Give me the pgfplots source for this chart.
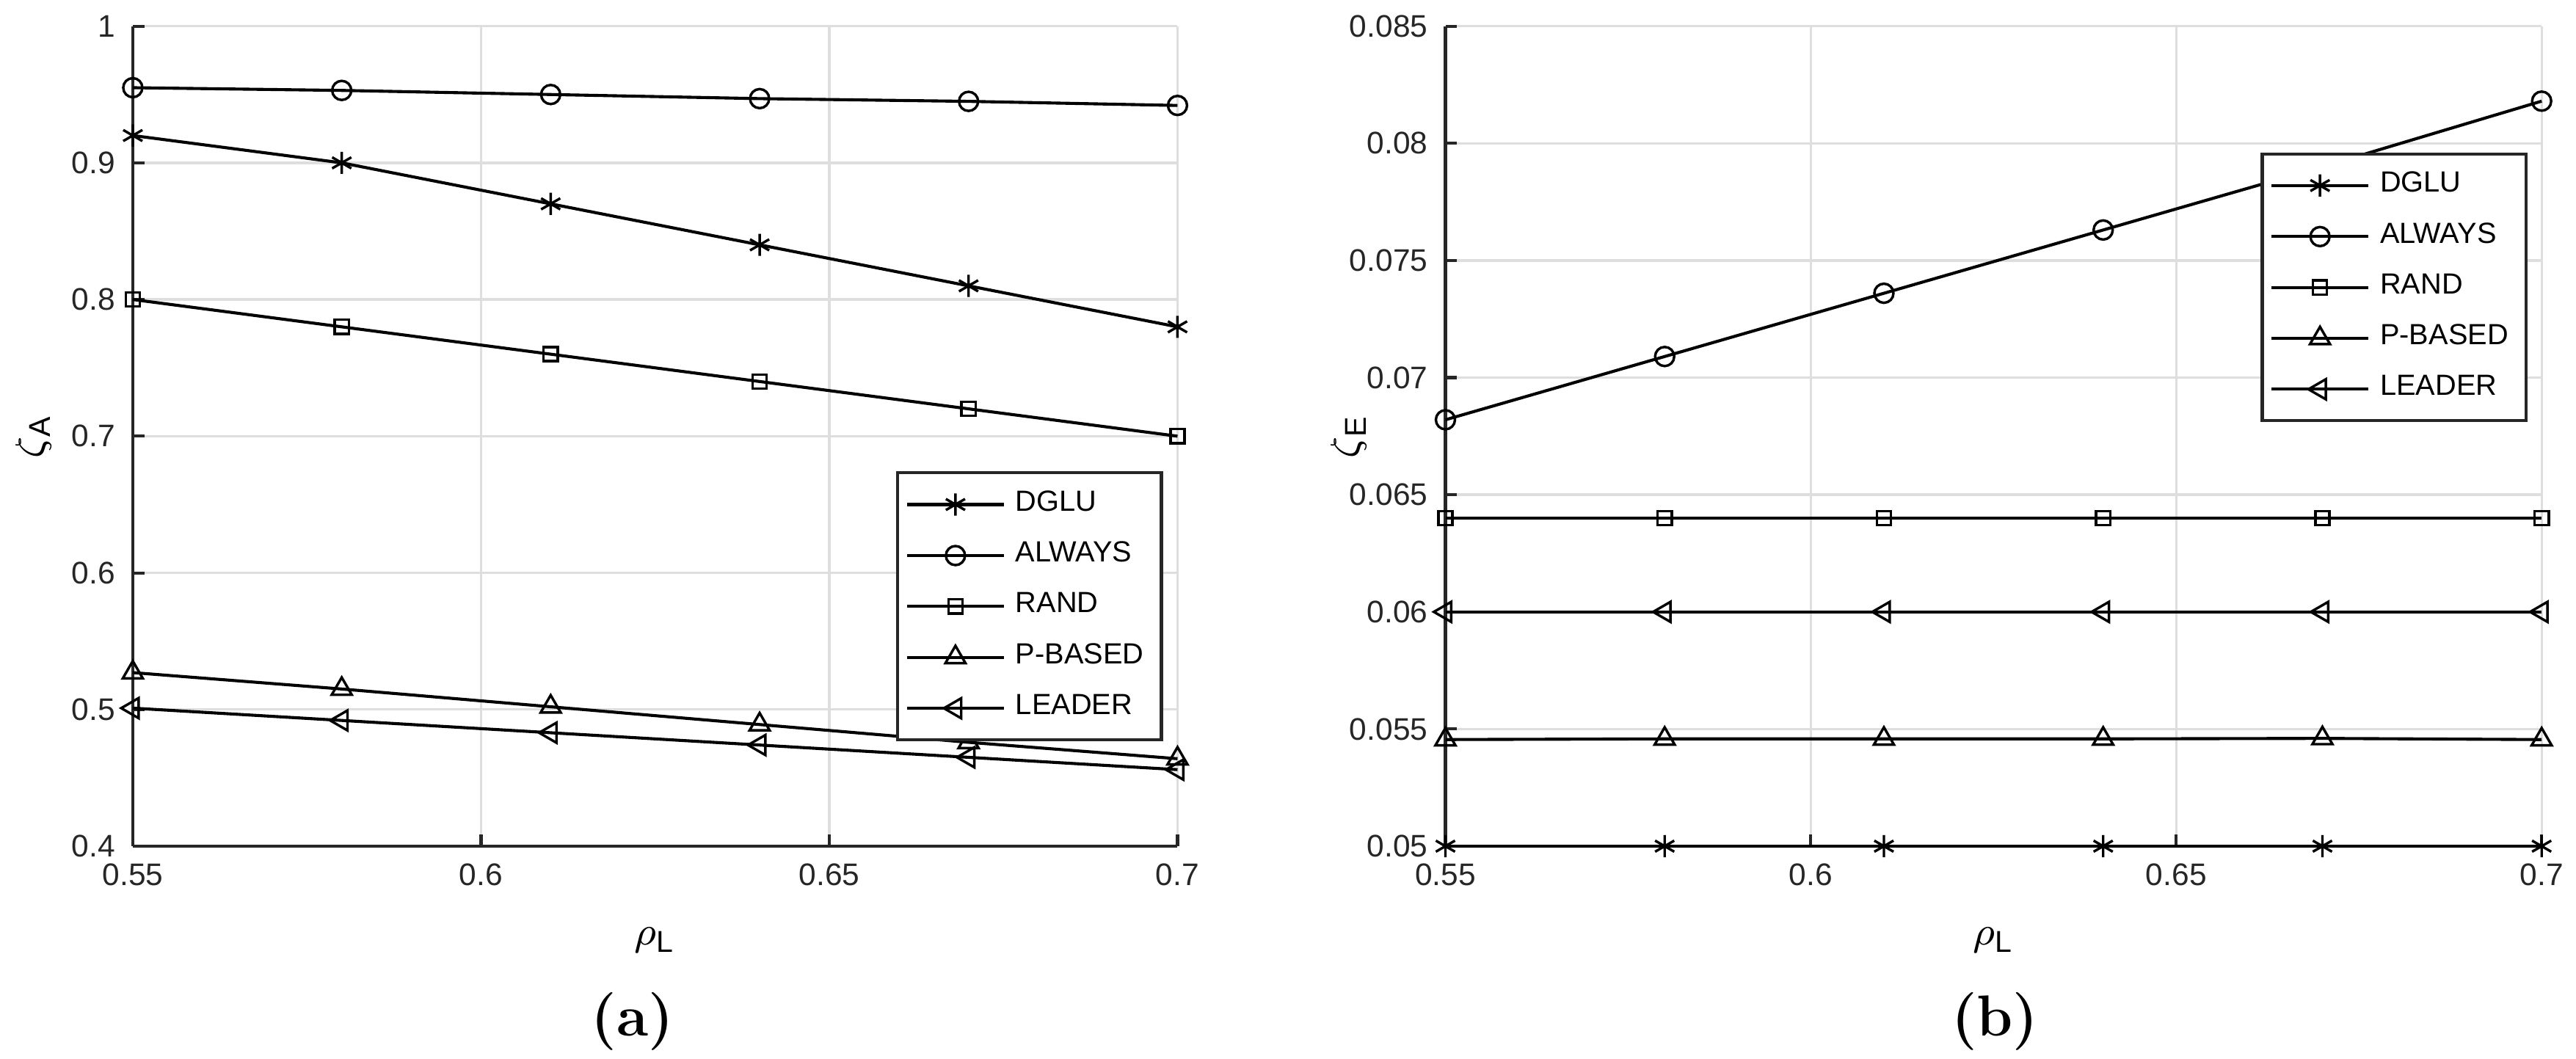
\documentclass[border=0pt]{standalone}
\usepackage{pgfplots}
\pgfplotsset{compat=1.18}
\usepackage{fontspec}
\newfontfamily\hv{Liberation Sans}
\definecolor{gridc}{RGB}{222,222,222}
\definecolor{axc}{RGB}{38,38,38}

\pgfplotsset{
  panel/.style={
    scale only axis, height=5.73cm,
    xmin=0.55, xmax=0.7,
    xtick={0.55,0.6,0.65,0.7}, xticklabels={0.55,0.6,0.65,0.7},
    scaled x ticks=false, scaled y ticks=false,
    grid=major, major grid style={gridc, line width=0.5pt},
    axis x line*=bottom, axis y line*=left,
    axis line style={axc, line width=0.6pt, -},
    tick align=inside, major tick length=0.08cm,
    tick style={axc, line width=0.6pt},
    tick label style={font=\hv\fontsize{6.2}{7}\selectfont, text=axc},
    label style={font=\hv\fontsize{8}{9}\selectfont},
    xlabel={$\rho$\textsubscript{L}},
    xlabel style={at={(axis description cs:0.5,-0.115)}, anchor=center},
    clip=false,
    legend cell align=left,
    legend style={font=\hv\fontsize{5.8}{7}\selectfont, draw=axc, line width=0.6pt,
      inner sep=1.5pt, row sep=0.6pt, anchor=north east},
    legend image code/.code={\draw[mark repeat=2,mark phase=2]
      plot coordinates {(0cm,0cm) (0.34cm,0cm) (0.68cm,0cm)};},
  },
  sDGLU/.style={black, line width=0.6pt, mark=asterisk, mark size=2.2pt, mark options={solid, line width=0.5pt}},
  sALW/.style={black, line width=0.6pt, mark=o, mark size=1.9pt, mark options={solid, line width=0.5pt}},
  sRAND/.style={black, line width=0.6pt, mark=square, mark size=1.4pt, mark options={solid, line width=0.5pt}},
  sPB/.style={black, line width=0.6pt, mark=triangle, mark size=2.3pt, mark options={solid, line width=0.5pt}},
  sLEAD/.style={black, line width=0.6pt, mark=triangle, mark size=2.3pt, mark options={solid, line width=0.5pt, rotate=90}},
}

\begin{document}
\begin{tikzpicture}
\path[use as bounding box] (0,0) rectangle (18cm,7.4cm);

% (a)
\begin{axis}[panel, at={(0.928cm,1.487cm)}, anchor=south west, width=7.30cm,
  ymin=0.4, ymax=1, ytick={0.4,0.5,0.6,0.7,0.8,0.9,1}, yticklabels={0.4,0.5,0.6,0.7,0.8,0.9,1},
  ylabel={$\zeta$\textsubscript{A}},
  ylabel style={at={(axis description cs:-0.095,0.5)}, anchor=center},
  legend style={at={(axis description cs:0.986,0.457)}}]
\addplot[sDGLU] coordinates {(0.55,0.920) (0.58,0.900) (0.61,0.870) (0.64,0.840) (0.67,0.810) (0.70,0.780)};
\addlegendentry{DGLU}
\addplot[sALW] coordinates {(0.55,0.955) (0.58,0.953) (0.61,0.950) (0.64,0.947) (0.67,0.945) (0.70,0.942)};
\addlegendentry{ALWAYS}
\addplot[sRAND] coordinates {(0.55,0.800) (0.58,0.780) (0.61,0.760) (0.64,0.740) (0.67,0.720) (0.70,0.700)};
\addlegendentry{RAND}
\addplot[sPB] coordinates {(0.55,0.527) (0.58,0.515) (0.61,0.502) (0.64,0.489) (0.67,0.476) (0.70,0.464)};
\addlegendentry{P-BASED}
\addplot[sLEAD] coordinates {(0.55,0.501) (0.58,0.492) (0.61,0.483) (0.64,0.474) (0.67,0.465) (0.70,0.456)};
\addlegendentry{LEADER}
\end{axis}

% (b)
\begin{axis}[panel, at={(10.10cm,1.487cm)}, anchor=south west, width=7.66cm,
  ymin=0.05, ymax=0.085, ytick={0.05,0.055,0.06,0.065,0.07,0.075,0.08,0.085},
  yticklabels={0.05,0.055,0.06,0.065,0.07,0.075,0.08,0.085},
  ylabel={$\zeta$\textsubscript{E}},
  ylabel style={at={(axis description cs:-0.088,0.5)}, anchor=center},
  legend style={at={(axis description cs:0.987,0.846)}}]
\addplot[sDGLU] coordinates {(0.55,0.0500) (0.58,0.0500) (0.61,0.0500) (0.64,0.0500) (0.67,0.0500) (0.70,0.0500)};
\addlegendentry{DGLU}
\addplot[sALW] coordinates {(0.55,0.0682) (0.58,0.0709) (0.61,0.0736) (0.64,0.0763) (0.67,0.0790) (0.70,0.0818)};
\addlegendentry{ALWAYS}
\addplot[sRAND] coordinates {(0.55,0.0640) (0.58,0.0640) (0.61,0.0640) (0.64,0.0640) (0.67,0.0640) (0.70,0.0640)};
\addlegendentry{RAND}
\addplot[sPB] coordinates {(0.55,0.05455) (0.58,0.05458) (0.61,0.05458) (0.64,0.05458) (0.67,0.05460) (0.70,0.05455)};
\addlegendentry{P-BASED}
\addplot[sLEAD] coordinates {(0.55,0.0600) (0.58,0.0600) (0.61,0.0600) (0.64,0.0600) (0.67,0.0600) (0.70,0.0600)};
\addlegendentry{LEADER}
\end{axis}

\node[font=\fontsize{11.5}{13}\selectfont\bfseries] at (4.42cm,0.26cm) {(a)};
\node[font=\fontsize{11.5}{13}\selectfont\bfseries] at (13.94cm,0.26cm) {(b)};
\end{tikzpicture}
\end{document}
